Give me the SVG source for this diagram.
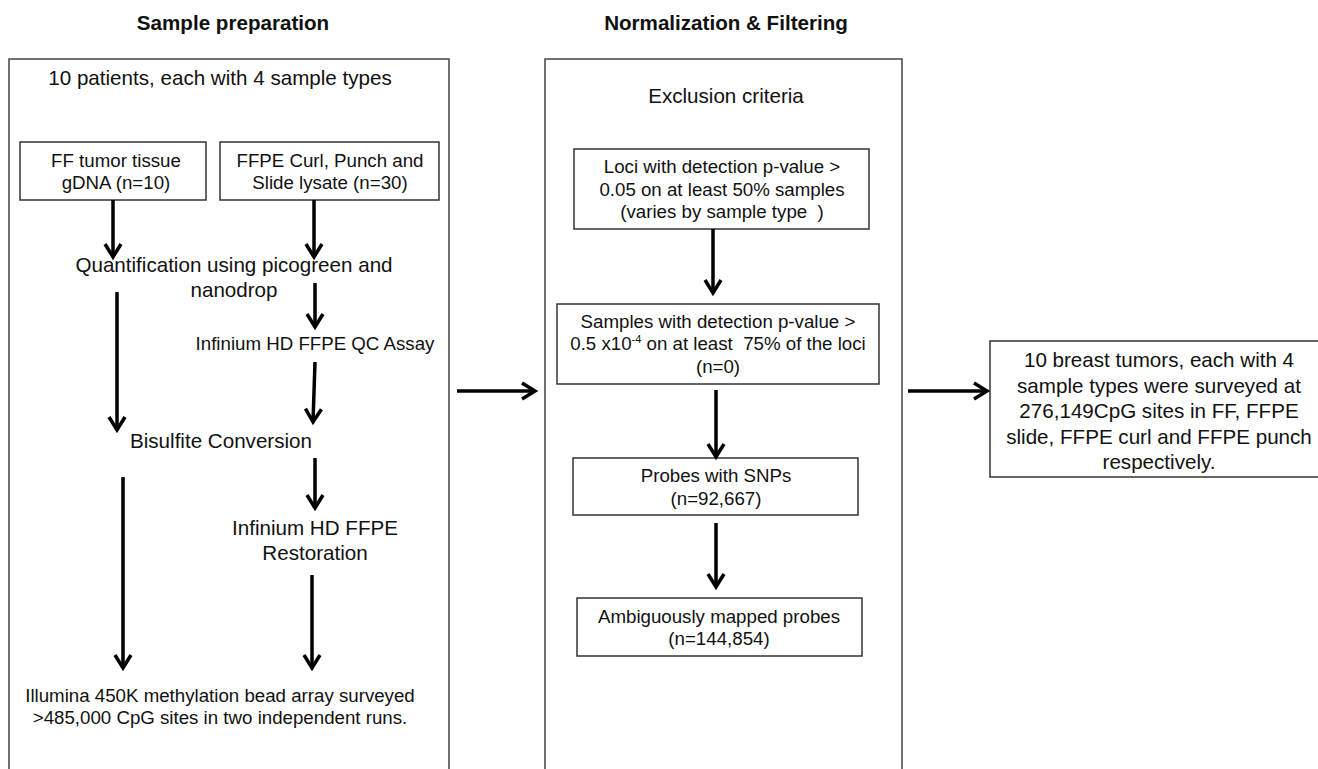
<svg xmlns="http://www.w3.org/2000/svg" width="1318" height="769" viewBox="0 0 1318 769">
<defs>
<marker id="ah" markerUnits="userSpaceOnUse" markerWidth="22" markerHeight="22" viewBox="-17 -11 22 22" refX="0" refY="0" orient="auto">
<path d="M-13,-8 L0,0 L-13,8" fill="none" stroke="#000" stroke-width="3.5" stroke-linejoin="miter"/>
</marker>
</defs>
<style>
text{font-family:"Liberation Sans",Arial,sans-serif;font-size:18.7px;fill:#111;text-anchor:middle}
.big{font-size:20.6px}
.title{font-weight:bold;font-size:20.6px}
.panel{fill:none;stroke:#444;stroke-width:1.5}
.box{fill:#fff;stroke:#333;stroke-width:1.5}
.arr{stroke:#000;stroke-width:3.5;fill:none;marker-end:url(#ah)}
</style>
<rect width="1318" height="769" fill="#fff"/>
<g id="panel-sample">
<path class="panel" d="M9,775 V59 H449 V775"/>
<text class="title" x="233" y="30">Sample preparation</text>
</g>
<g id="panel-norm">
<path class="panel" d="M545,775 V59 H902 V775"/>
<text class="title" x="726" y="30">Normalization &amp; Filtering</text>
</g>
<g id="patients"><text class="big" x="220" y="85">10 patients, each with 4 sample types</text></g>
<g id="ff">
<rect class="box" x="20" y="142" width="186" height="58"/>
<text x="116" y="167">FF tumor tissue</text>
<text x="116" y="189">gDNA (n=10)</text>
</g>
<g id="ffpe">
<rect class="box" x="220" y="142" width="219" height="58"/>
<text x="330" y="167">FFPE Curl, Punch and</text>
<text x="330" y="189">Slide lysate (n=30)</text>
</g>
<g id="quant">
<text class="big" x="234" y="272">Quantification using picogreen and</text>
<text class="big" x="234" y="297">nanodrop</text>
</g>
<g id="qc"><text x="315" y="350">Infinium HD FFPE QC Assay</text></g>
<g id="bisulfite"><text class="big" x="221" y="448">Bisulfite Conversion</text></g>
<g id="restoration">
<text class="big" x="315" y="535">Infinium HD FFPE</text>
<text class="big" x="315" y="560">Restoration</text>
</g>
<g id="illumina">
<text x="220" y="702">Illumina 450K methylation bead array surveyed</text>
<text x="220" y="724">&gt;485,000 CpG sites in two independent runs.</text>
</g>
<g id="exclusion"><text class="big" x="726" y="103">Exclusion criteria</text></g>
<g id="loci">
<rect class="box" x="574" y="149" width="295" height="80"/>
<text x="722" y="173">Loci with detection p-value &gt;</text>
<text x="722" y="196">0.05 on at least 50% samples</text>
<text x="722" y="218" style="white-space:pre">(varies by sample type  )</text>
</g>
<g id="samples">
<rect class="box" x="557" y="304" width="322" height="80"/>
<text x="718" y="328">Samples with detection p-value &gt;</text>
<text x="718" y="350" style="white-space:pre">0.5 x10<tspan font-size="11" dy="-7">-4</tspan><tspan dy="7"> on at least  75% of the loci</tspan></text>
<text x="718" y="373">(n=0)</text>
</g>
<g id="snps">
<rect class="box" x="573" y="458" width="285" height="57"/>
<text x="716" y="482">Probes with SNPs</text>
<text x="716" y="505">(n=92,667)</text>
</g>
<g id="ambiguous">
<rect class="box" x="577" y="598" width="285" height="58"/>
<text x="719" y="623">Ambiguously mapped probes</text>
<text x="719" y="645">(n=144,854)</text>
</g>
<g id="result">
<rect class="box" x="990" y="341" width="340" height="136"/>
<text class="big" x="1159" y="367">10 breast tumors, each with 4</text>
<text class="big" x="1159" y="393">sample types were surveyed at</text>
<text class="big" x="1159" y="418">276,149CpG sites in FF, FFPE</text>
<text class="big" x="1159" y="444">slide, FFPE curl and FFPE punch</text>
<text class="big" x="1159" y="469">respectively.</text>
</g>
<g id="connectors">
<line class="arr" x1="113" y1="200" x2="113" y2="257"/>
<line class="arr" x1="314" y1="200" x2="314" y2="257"/>
<line class="arr" x1="117" y1="292" x2="117" y2="430"/>
<line class="arr" x1="315" y1="283" x2="315" y2="327"/>
<line class="arr" x1="315" y1="362" x2="313" y2="422"/>
<line class="arr" x1="315" y1="458" x2="315" y2="508"/>
<line class="arr" x1="123" y1="477" x2="123" y2="668"/>
<line class="arr" x1="312" y1="575" x2="312" y2="668"/>
<line class="arr" x1="713" y1="229" x2="713" y2="293"/>
<line class="arr" x1="716" y1="390" x2="716" y2="457"/>
<line class="arr" x1="716" y1="523" x2="716" y2="587"/>
<line class="arr" x1="457" y1="391" x2="535" y2="391"/>
<line class="arr" x1="908" y1="391" x2="987" y2="391"/>
</g>
</svg>
